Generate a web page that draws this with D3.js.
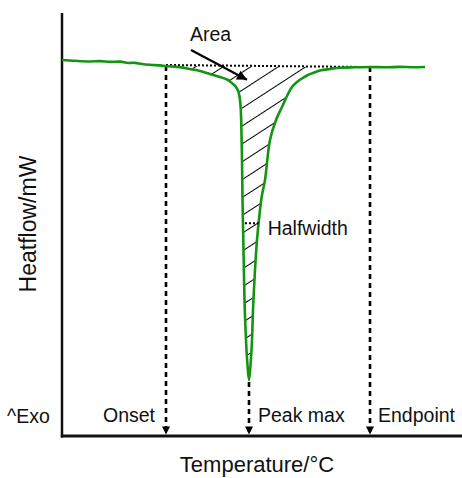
<!DOCTYPE html>
<html>
<head>
<meta charset="utf-8">
<script src="https://cdn.jsdelivr.net/npm/d3@7"></script>
<style>
  html, body { margin: 0; padding: 0; background: #fff; }
  svg { display: block; font-family: "Liberation Sans", Arial, Helvetica, sans-serif; }
</style>
</head>
<body>
<svg id="chart" width="462" height="478"></svg>
<script>
// DSC thermogram: temperature (°C) vs heat flow (mW)
const temperature = [
  100, 103.25, 107, 109.5, 112, 114.5, 116.5, 118.25, 120, 122, 124.5,
  126, 129.5, 132, 134.5, 137, 139.5, 141.5, 142.75, 143.5, 144.125, 144.5,
  144.7, 144.825, 145, 145.125, 145.375, 145.625, 146, 146.375, 146.75,
  147.125, 147.5, 147.75, 148.25, 148.75, 149.5, 150, 150.75, 152, 153.5,
  155, 156.25, 157.5, 158.75, 160, 161.25, 162.75, 164.5, 167, 169.5,
  173.25, 177, 180.75, 184.5, 187.5, 190.75
];
const heatflow = [
  8.889, 8.870, 8.855, 8.862, 8.845, 8.850, 8.818, 8.822, 8.794, 8.775, 8.762,
  8.747, 8.720, 8.676, 8.629, 8.558, 8.487, 8.416, 8.322, 8.251, 8.132, 7.943,
  7.707, 7.352, 6.525, 5.579, 4.397, 3.215, 2.270, 1.678, 1.324,
  1.678, 2.270, 2.979, 3.924, 4.634, 5.343, 5.697, 6.052, 6.998, 7.470,
  7.778, 8.038, 8.251, 8.369, 8.452, 8.522, 8.582, 8.641, 8.676, 8.704,
  8.716, 8.723, 8.716, 8.726, 8.719, 8.724
];

// Characteristic temperatures
const markerNames = ["Onset", "Peak max", "Endpoint"];
const markerTemps = [126, 146.75, 177];

// Axis titles and side note
const xTitle = "Temperature/°C";
const yTitle = "Heatflow/mW";
const exoLabel = "^Exo";
const areaLabel = "Area";
const halfwidthLabel = "Halfwidth";

const svg = d3.select("#chart");
const x = d3.scaleLinear().domain([100, 200]).range([62, 462]);
const y = d3.scaleLinear().domain([0, 10]).range([436, 13]);

const data = temperature.map((t, i) => ({ t, h: heatflow[i] }));

// Heat flow at any temperature, by linear interpolation of the trace
function hAt(t) {
  for (let i = 1; i < data.length; i++) {
    if (t <= data[i].t) {
      const a = data[i - 1], b = data[i];
      return a.h + (b.h - a.h) * (t - a.t) / (b.t - a.t);
    }
  }
  return data[data.length - 1].h;
}

const [tOn, tPeak, tEnd] = markerTemps;
const hOn = hAt(tOn), hEnd = hAt(tEnd), hPeak = hAt(tPeak);
const baseAt = t => hOn + (hEnd - hOn) * (t - tOn) / (tEnd - tOn);

// Defs: hatch pattern and arrowheads
const defs = svg.append("defs");
const pat = defs.append("pattern")
  .attr("id", "hatch")
  .attr("patternUnits", "userSpaceOnUse")
  .attr("width", 40).attr("height", 15)
  .attr("patternTransform", "translate(0,6) rotate(-33)");
pat.append("line")
  .attr("x1", 0).attr("x2", 40).attr("y1", 7.5).attr("y2", 7.5)
  .attr("stroke", "#000").attr("stroke-width", 1);

defs.append("marker")
  .attr("id", "head")
  .attr("viewBox", "0 0 10 10")
  .attr("refX", 10).attr("refY", 5)
  .attr("markerUnits", "userSpaceOnUse")
  .attr("markerWidth", 11).attr("markerHeight", 8)
  .attr("orient", "auto")
  .append("path").attr("d", "M0,0 L10,5 L0,10 Z").attr("fill", "#000");

defs.append("marker")
  .attr("id", "headArea")
  .attr("viewBox", "0 0 10 10")
  .attr("refX", 10).attr("refY", 5)
  .attr("markerUnits", "userSpaceOnUse")
  .attr("markerWidth", 13).attr("markerHeight", 10)
  .attr("orient", "auto")
  .append("path").attr("d", "M0,0 L10,5 L0,10 Z").attr("fill", "#000");

const curve = d3.curveCatmullRom.alpha(0.5);

// Hatched peak area between baseline and trace
const peakData = data.filter(d => d.t >= tOn && d.t <= tEnd);
svg.append("path")
  .datum(peakData)
  .attr("fill", "url(#hatch)")
  .attr("d", d3.area().curve(curve)
    .x(d => x(d.t))
    .y0(d => y(baseAt(d.t)))
    .y1(d => y(d.h)));

// Axes (plain lines, no ticks)
svg.append("line")
  .attr("x1", x(100)).attr("x2", x(100))
  .attr("y1", y(10)).attr("y2", y(0) + 1.5)
  .attr("stroke", "#111").attr("stroke-width", 2.5);
svg.append("line")
  .attr("x1", x(100) - 1.2).attr("x2", x(200))
  .attr("y1", y(0)).attr("y2", y(0))
  .attr("stroke", "#111").attr("stroke-width", 3);

// Dotted baseline
svg.append("line")
  .attr("x1", x(tOn)).attr("x2", x(tEnd))
  .attr("y1", y(hOn) - 1).attr("y2", y(hEnd))
  .attr("stroke", "#000").attr("stroke-width", 2)
  .attr("stroke-dasharray", "2,2");

// Dashed drop lines to the temperature axis
const markerTop = [hOn, hPeak - 0.05, hEnd];
markerTemps.forEach((t, i) => {
  svg.append("line")
    .attr("x1", x(t)).attr("x2", x(t))
    .attr("y1", y(markerTop[i])).attr("y2", y(0) - 1.5)
    .attr("stroke", "#000").attr("stroke-width", 2.6)
    .attr("stroke-dasharray", "5,4")
    .attr("marker-end", "url(#head)");
});

// Thermogram trace
svg.append("path")
  .datum(data)
  .attr("fill", "none")
  .attr("stroke", "#139413")
  .attr("stroke-width", 2.6)
  .attr("stroke-linejoin", "round")
  .attr("d", d3.line().curve(curve).x(d => x(d.t)).y(d => y(d.h)));

// Halfwidth marker at half the peak depth
const hHalf = (baseAt(tPeak) + hPeak) / 2;
function crossT(lo, hi) {
  const seg = data.filter(d => d.t >= lo && d.t <= hi);
  for (let i = 1; i < seg.length; i++) {
    const a = seg[i - 1], b = seg[i];
    if ((a.h - hHalf) * (b.h - hHalf) <= 0) {
      return a.t + (b.t - a.t) * (hHalf - a.h) / (b.h - a.h);
    }
  }
  return lo;
}
const tHalfL = crossT(tOn, tPeak), tHalfR = crossT(tPeak, tEnd);
svg.append("line")
  .attr("x1", x(tHalfL) + 2).attr("x2", x(tHalfR))
  .attr("y1", y(hHalf)).attr("y2", y(hHalf))
  .attr("stroke", "#000").attr("stroke-width", 2)
  .attr("stroke-dasharray", "2,2");

const labelSize = "19.5px";
svg.append("text")
  .attr("x", x(tHalfR) + 9).attr("y", y(hHalf) + 12)
  .attr("font-size", labelSize).attr("fill", "#111")
  .text(halfwidthLabel);

// Area annotation
svg.append("text")
  .attr("x", x(132)).attr("y", y(9.338))
  .attr("font-size", labelSize).attr("fill", "#111")
  .text(areaLabel);
svg.append("line")
  .attr("x1", x(132.25)).attr("y1", y(9.125))
  .attr("x2", x(146.25)).attr("y2", y(8.42))
  .attr("stroke", "#000").attr("stroke-width", 2.2)
  .attr("marker-end", "url(#headArea)");

// Marker labels along the axis
const labelOffset = [-11, 9, 8];
const labelAnchor = ["end", "start", "start"];
markerNames.forEach((name, i) => {
  svg.append("text")
    .attr("x", x(markerTemps[i]) + labelOffset[i])
    .attr("y", 422)
    .attr("text-anchor", labelAnchor[i])
    .attr("font-size", labelSize).attr("fill", "#111")
    .text(name);
});

svg.append("text")
  .attr("x", 7).attr("y", 423)
  .attr("font-size", labelSize).attr("fill", "#111")
  .text(exoLabel);

// Axis titles
svg.append("text")
  .attr("x", 257).attr("y", 472)
  .attr("text-anchor", "middle")
  .attr("font-size", "22px").attr("fill", "#111")
  .text(xTitle);
svg.append("text")
  .attr("transform", "translate(36,224) rotate(-90)")
  .attr("text-anchor", "middle")
  .attr("font-size", "23px").attr("fill", "#111")
  .text(yTitle);
</script>
</body>
</html>
